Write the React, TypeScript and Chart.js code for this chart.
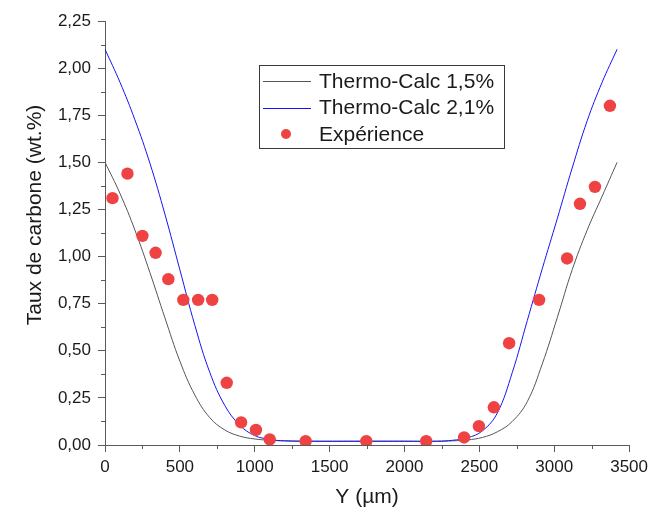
import React, { useEffect, useRef } from "react";
import { Chart, registerables } from "chart.js";
Chart.register(...registerables);

// ---- data ----
const xTickValues = [0, 500, 1000, 1500, 2000, 2500, 3000, 3500];
const yTickValues = [0, 0.25, 0.5, 0.75, 1.0, 1.25, 1.5, 1.75, 2.0, 2.25];

const calcX = [0, 100, 200, 300, 400, 500, 600, 700, 800, 900, 1000, 1100, 1200, 1400, 1710, 2000, 2220, 2320, 2420, 2520, 2620, 2720, 2820, 2920, 3020, 3120, 3220, 3320, 3420];
const calc15 = [1.5, 1.335, 1.14, 0.915, 0.675, 0.445, 0.265, 0.145, 0.08, 0.047, 0.032, 0.025, 0.022, 0.02, 0.02, 0.02, 0.02, 0.022, 0.027, 0.04, 0.07, 0.125, 0.23, 0.43, 0.675, 0.93, 1.14, 1.32, 1.5];
const calc21 = [2.1, 1.925, 1.725, 1.495, 1.225, 0.93, 0.635, 0.385, 0.21, 0.105, 0.05, 0.03, 0.022, 0.02, 0.02, 0.02, 0.02, 0.025, 0.038, 0.075, 0.17, 0.385, 0.66, 0.935, 1.2, 1.47, 1.72, 1.925, 2.1];

const expX = [50, 150, 250, 338, 423, 523, 622, 716, 813, 909, 1008, 1100, 1340, 1745, 2145, 2398, 2497, 2597, 2699, 2899, 3086, 3172, 3272, 3372];
const expY = [1.31, 1.44, 1.11, 1.02, 0.88, 0.77, 0.77, 0.77, 0.33, 0.12, 0.08, 0.03, 0.02, 0.02, 0.02, 0.04, 0.1, 0.2, 0.54, 0.77, 0.99, 1.28, 1.37, 1.8];

const seriesLabels = ["Thermo-Calc 1,5%", "Thermo-Calc 2,1%", "Expérience"];
const xTitle = "Y (µm)";
const yTitle = "Taux de carbone (wt.%)";

// ---- styles ----
const FONT = "'Liberation Sans', Arial, sans-serif";
const AXIS = "#5a5a5a";
const GRAY = "#555555";
const BLUE = "#1414f5";
const RED = "#ef4343";
const TEXT = "#1a1a1a";

const zip = (xs: number[], ys: number[]) => xs.map((x, i) => ({ x, y: ys[i] }));
const mids = (arr: number[]) => arr.slice(0, -1).map((v, i) => (v + arr[i + 1]) / 2);

const minorTicksPlugin = {
  id: "minorTicks",
  afterDraw(chart: any) {
    const ctx = chart.ctx;
    const xs = chart.scales.x;
    const ys = chart.scales.y;
    ctx.save();
    ctx.strokeStyle = AXIS;
    ctx.lineWidth = 1;
    ctx.beginPath();
    for (const v of mids(xTickValues)) {
      const px = Math.round(xs.getPixelForValue(v)) + 0.5;
      ctx.moveTo(px, ys.bottom);
      ctx.lineTo(px, ys.bottom + 4);
    }
    for (const v of mids(yTickValues)) {
      const py = Math.round(ys.getPixelForValue(v)) + 0.5;
      ctx.moveTo(xs.left, py);
      ctx.lineTo(xs.left - 4, py);
    }
    ctx.stroke();
    ctx.restore();
  },
};

const yTitlePlugin = {
  id: "yTitle",
  afterDraw(chart: any) {
    const ctx = chart.ctx;
    ctx.save();
    ctx.translate(41, 215);
    ctx.rotate(-Math.PI / 2);
    ctx.font = `21px ${FONT}`;
    ctx.fillStyle = TEXT;
    ctx.textAlign = "center";
    ctx.textBaseline = "alphabetic";
    ctx.fillText(yTitle, 0, 0);
    ctx.restore();
  },
};

const legendPlugin = {
  id: "boxLegend",
  afterDraw(chart: any) {
    const ctx = chart.ctx;
    const ds = chart.data.datasets;
    ctx.save();
    ctx.strokeStyle = "#3a3a3a";
    ctx.lineWidth = 1;
    ctx.strokeRect(259.5, 65.5, 245, 83);
    const rows = [81, 107.5, 134];
    ctx.font = `21px ${FONT}`;
    ctx.textBaseline = "middle";
    ctx.textAlign = "left";
    ds.forEach((d: any, i: number) => {
      const y = rows[i];
      if (d.showLine === false) {
        ctx.fillStyle = d.pointBackgroundColor;
        ctx.beginPath();
        ctx.arc(286, y, 5, 0, Math.PI * 2);
        ctx.fill();
      } else {
        ctx.strokeStyle = d.borderColor;
        ctx.lineWidth = 1;
        ctx.beginPath();
        ctx.moveTo(263, Math.round(y) + 0.5);
        ctx.lineTo(311, Math.round(y) + 0.5);
        ctx.stroke();
      }
      ctx.fillStyle = TEXT;
      ctx.fillText(d.label, 319, y + 1);
    });
    ctx.restore();
  },
};

export default function App() {
  const ref = useRef<HTMLCanvasElement | null>(null);
  useEffect(() => {
    if (!ref.current) return;
    Chart.defaults.font.family = FONT;
    const chart = new Chart(ref.current, {
      type: "line",
      data: {
        datasets: [
          {
            label: seriesLabels[0],
            data: zip(calcX, calc15),
            borderColor: GRAY,
            borderWidth: 1,
            pointRadius: 0,
            tension: 0.4,
            fill: false,
            order: 2,
          },
          {
            label: seriesLabels[1],
            data: zip(calcX, calc21),
            borderColor: BLUE,
            borderWidth: 1,
            pointRadius: 0,
            tension: 0.4,
            fill: false,
            order: 1,
          },
          {
            label: seriesLabels[2],
            data: zip(expX, expY),
            showLine: false,
            pointRadius: 6.2,
            pointBackgroundColor: RED,
            pointBorderWidth: 0,
            pointBorderColor: RED,
            order: 0,
          } as any,
        ],
      },
      options: {
        animation: false,
        responsive: false,
        maintainAspectRatio: false,
        layout: { padding: { left: 0, top: 21, right: 21, bottom: 0 } },
        plugins: {
          legend: { display: false },
          tooltip: { enabled: false },
        },
        scales: {
          x: {
            type: "linear",
            min: 0,
            max: 3500,
            afterFit(scale: any) {
              scale.height = 66;
            },
            ticks: {
              stepSize: 500,
              color: TEXT,
              font: { size: 17, family: FONT },
              padding: 5,
              maxRotation: 0,
              callback: (v: any) => String(v),
            },
            grid: {
              display: true,
              drawOnChartArea: false,
              drawTicks: true,
              tickLength: 7,
              tickColor: AXIS,
              tickWidth: 1,
            },
            border: { display: true, color: AXIS, width: 1 },
            title: {
              display: true,
              text: xTitle,
              color: TEXT,
              font: { size: 21, family: FONT },
              padding: { top: 0, bottom: 1 },
            },
          },
          y: {
            type: "linear",
            min: 0,
            max: 2.25,
            afterFit(scale: any) {
              scale.width = 105;
            },
            ticks: {
              stepSize: 0.25,
              color: TEXT,
              font: { size: 17, family: FONT },
              padding: 7,
              callback: (v: any) => Number(v).toFixed(2).replace(".", ","),
            },
            grid: {
              display: true,
              drawOnChartArea: false,
              drawTicks: true,
              tickLength: 7,
              tickColor: AXIS,
              tickWidth: 1,
            },
            border: { display: true, color: AXIS, width: 1 },
          },
        },
      },
      plugins: [minorTicksPlugin, yTitlePlugin, legendPlugin],
    } as any);
    return () => chart.destroy();
  }, []);
  return (
    <div style={{ position: "absolute", left: 0, top: 0, width: 653, height: 511, background: "#fff" }}>
      <canvas ref={ref} width={653} height={511} style={{ width: 653, height: 511, display: "block" }} />
    </div>
  );
}
